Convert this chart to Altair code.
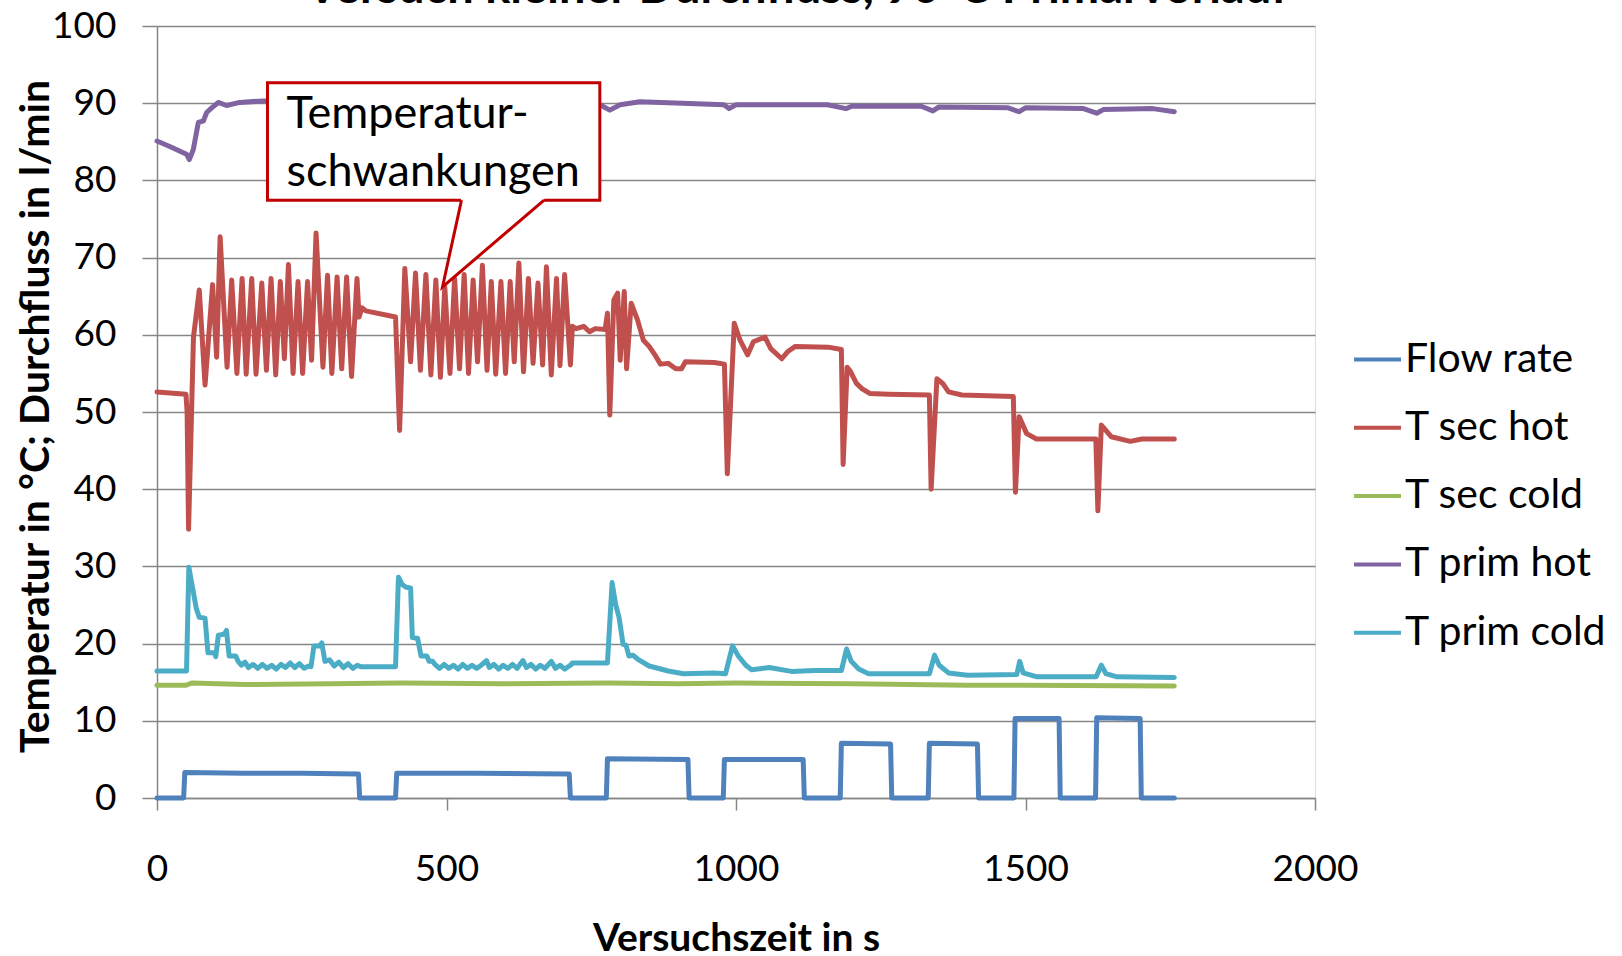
import altair as alt
import pandas as pd

TITLE = "Versuch kleiner Durchfluss, 90°C Primärvorlauf"
SERIES = ["Flow rate", "T sec hot", "T sec cold", "T prim hot", "T prim cold"]
COLORS = ["#4F81BD", "#C0504D", "#9BBB59", "#8064A2", "#4BACC6"]
X_TICKS = [0, 500, 1000, 1500, 2000]
Y_TICKS = [0, 10, 20, 30, 40, 50, 60, 70, 80, 90, 100]

# Flow rate (l/min)
FLOW_T = [0, 46, 48, 150, 250, 348, 350, 412, 414, 550, 712, 714, 776, 778, 917, 919,
          978, 980, 1116, 1118, 1180, 1182, 1267, 1269, 1332, 1334, 1417, 1419, 1480,
          1482, 1558, 1560, 1621, 1623, 1698, 1700, 1757]
FLOW_V = [0, 0, 3.3, 3.2, 3.2, 3.1, 0, 0, 3.2, 3.2, 3.1, 0, 0, 5.1, 5.0, 0,
          0, 5.0, 5.0, 0, 0, 7.1, 7.0, 0, 0, 7.1, 7.0, 0, 0,
          10.3, 10.3, 0, 0, 10.4, 10.3, 0, 0]

# T sec hot
SH_T = [0, 50, 52, 54.5, 58, 63, 73, 83, 96, 103, 109, 121, 129, 138, 147, 154, 163.6, 171,
        181, 189, 197, 205, 213, 220, 227, 235, 243.6, 251.5, 260, 267, 274.7, 286.6, 294.5,
        302, 311, 319, 327.5, 336, 345.4, 349, 354, 360.6, 412, 419, 428, 438, 446.5, 455,
        464.4, 473, 481.6, 489.5, 497, 506, 514, 522.5, 530.5, 538, 546, 553.6, 562, 570,
        577.4, 585, 594, 602, 610, 617, 625, 633, 641.5, 649.5, 658, 666, 672.6, 681, 690,
        696, 704, 714, 717.5, 724, 737, 747, 757, 774, 778, 782, 789, 795.6, 800, 807, 811,
        819, 830, 840, 850, 860, 869.6, 883, 896, 906, 912.6, 962, 980, 985, 997, 1007, 1020,
        1030, 1050, 1060, 1079, 1089, 1102.5, 1159, 1182, 1185, 1192, 1198, 1208, 1218, 1231,
        1264, 1334, 1337, 1347, 1357, 1367, 1390, 1479, 1482.6, 1489, 1502, 1519, 1621.5,
        1625, 1631, 1648, 1681, 1701, 1757]
SH_V = [52.6, 52.3, 50.0, 34.8, 45.0, 59.7, 65.8, 53.5, 66.5, 57.1, 72.7, 55.8, 67.1, 55.0,
        67.3, 54.9, 67.3, 54.9, 66.7, 55.4, 67.3, 54.8, 66.9, 56.9, 69.1, 55.0, 66.9, 55.0,
        66.9, 56.7, 73.2, 55.8, 67.7, 55.0, 67.5, 55.6, 67.5, 54.6, 67.3, 62.3, 63.5, 63.1,
        62.3, 47.6, 68.6, 56.5, 68.0, 55.4, 67.8, 54.8, 67.1, 54.5, 66.2, 55.0, 67.3, 55.6,
        67.8, 55.0, 67.1, 56.5, 69.0, 55.4, 66.9, 54.9, 66.9, 55.0, 66.9, 56.5, 69.3, 55.2,
        67.3, 56.3, 66.7, 56.1, 68.8, 54.8, 67.3, 56.0, 67.8, 56.1, 61.1, 60.8, 61.1, 60.4,
        60.8, 60.7, 62.8, 49.6, 64.5, 65.4, 56.7, 65.6, 55.6, 64.1, 61.9, 59.3, 58.5, 57.4,
        56.2, 56.3, 55.6, 55.6, 56.5, 56.4, 56.2, 42.0, 61.5, 59.3, 57.4, 59.1, 59.7, 58.2,
        56.9, 57.8, 58.5, 58.4, 58.1, 43.2, 55.8, 55.2, 53.7, 53.0, 52.4, 52.3, 52.2, 40.0,
        54.3, 53.7, 52.6, 52.2, 52.0, 39.6, 49.4, 47.2, 46.5, 46.5, 37.2, 48.3, 46.8, 46.2,
        46.5, 46.5]

# T sec cold
SC_T = [0, 50, 60, 150, 300, 420, 600, 780, 900, 1000, 1200, 1400, 1500, 1757]
SC_V = [14.6, 14.6, 14.9, 14.7, 14.8, 14.9, 14.8, 14.9, 14.8, 14.9, 14.8, 14.6, 14.6, 14.5]

# T prim hot
PH_T = [0, 25, 51, 55.8, 62.7, 71.4, 80, 85.8, 94.4, 106, 120, 143, 184, 300, 500, 700, 765,
        782, 800, 834, 907, 979, 988, 1000, 1158, 1190, 1200, 1320, 1340, 1350, 1470, 1489,
        1500, 1600, 1623, 1635, 1720, 1757]
PH_V = [85.1, 84.3, 83.4, 82.7, 84.0, 87.5, 87.7, 88.8, 89.4, 90.1, 89.7, 90.1, 90.3, 90.3,
        90.3, 90.2, 89.8, 89.1, 89.8, 90.2, 90.0, 89.8, 89.3, 89.8, 89.8, 89.3, 89.6, 89.6,
        89.0, 89.5, 89.4, 88.9, 89.4, 89.3, 88.7, 89.2, 89.3, 88.9]

# T prim cold
PC_T = [0, 51, 55, 68, 73, 83, 88, 99, 101.5, 106, 116, 120, 124.6, 136, 140, 146, 152, 158,
        166, 174, 182, 190, 198, 206, 214, 222, 230, 238, 246, 254, 262, 266, 271, 281, 284.6,
        290, 298, 306, 314, 322, 330, 338, 346, 352, 412, 417, 423, 430, 438, 441, 450, 456,
        466, 470, 476, 480, 488, 496, 504, 512, 520, 528, 536, 544, 552, 560, 569, 574, 582,
        590, 598, 606, 614, 622, 632, 638, 646, 654, 662, 670, 681, 688, 696, 704, 712, 716,
        717, 778, 786, 792, 798, 805, 810, 815, 822, 830, 850, 883, 909, 962, 982, 994, 1004,
        1017, 1027, 1057, 1096, 1136, 1182, 1191, 1199, 1212, 1229, 1334, 1343, 1351, 1367,
        1400, 1485, 1490, 1496, 1520, 1622, 1631, 1639, 1658, 1757]
PC_V = [16.45, 16.45, 29.9, 24.5, 23.4, 23.3, 18.8, 18.8, 18.3, 21.1, 21.2, 21.7, 18.4, 18.4,
        17.7, 17.2, 17.6, 16.9, 17.3, 16.8, 17.3, 16.8, 17.2, 16.7, 17.3, 16.9, 17.5, 16.9,
        17.4, 16.8, 17.1, 17.0, 19.7, 19.7, 20.1, 17.7, 17.9, 17.1, 17.6, 16.9, 17.4, 16.8,
        17.2, 17.0, 17.0, 28.6, 27.7, 27.3, 27.2, 20.8, 20.7, 18.4, 18.4, 17.7, 17.7, 17.3,
        16.8, 17.3, 16.8, 17.2, 16.7, 17.3, 16.8, 17.2, 16.8, 17.2, 17.8, 16.9, 17.3, 16.7,
        17.2, 16.8, 17.3, 16.8, 17.8, 16.9, 17.3, 16.7, 17.2, 16.8, 17.7, 16.8, 17.2, 16.7,
        17.1, 17.3, 17.5, 17.5, 27.9, 25.1, 23.4, 19.9, 19.8, 18.4, 18.5, 18.0, 17.1, 16.45,
        16.1, 16.2, 16.1, 19.7, 18.4, 17.2, 16.6, 16.9, 16.4, 16.5, 16.5, 19.3, 17.7, 16.7,
        16.1, 16.1, 18.5, 17.2, 16.2, 15.9, 16.0, 17.7, 16.2, 15.7, 15.7, 17.2, 16.1, 15.7,
        15.6]

# Callout (data coordinates)
ANN_TEXT = ["Temperatur-", "schwankungen"]
ANN_T = [223.6, 223.6]
ANN_V = [86.73, 79.25]
BOX_T = [190.8, 764.8]
BOX_V = [77.44, 92.64]
PTR_T = [525.9, 493.1, 668.6]
PTR_V = [77.44, 66.2, 77.44]

rows = []
for name, ts, vs in [("Flow rate", FLOW_T, FLOW_V), ("T sec hot", SH_T, SH_V),
                     ("T sec cold", SC_T, SC_V), ("T prim hot", PH_T, PH_V),
                     ("T prim cold", PC_T, PC_V)]:
    for i, (t, v) in enumerate(zip(ts, vs)):
        rows.append({"series": name, "t": t, "v": v, "i": i})
df = pd.DataFrame(rows)

FONT = "Lato"
GRAY = "#868686"

x_enc = alt.X("t:Q", scale=alt.Scale(domain=[0, 2000], nice=False, zero=False),
              axis=alt.Axis(values=X_TICKS, format="d", labelFlush=False,
                            title="Versuchszeit in s", grid=False,
                            labelFont=FONT, labelFontSize=37, labelColor="black",
                            labelPadding=41, tickSize=12, tickColor=GRAY, tickWidth=1.5,
                            domainColor=GRAY, domainWidth=1.5,
                            titleFont=FONT, titleFontSize=39, titleFontWeight="bold",
                            titleColor="black", titleX=579, titleY=152,
                            titleBaseline="alphabetic", titleAlign="center"))
y_enc = alt.Y("v:Q", scale=alt.Scale(domain=[0, 100], nice=False),
              axis=alt.Axis(values=Y_TICKS, title="Temperatur in °C; Durchfluss in l/min",
                            grid=True, gridColor=GRAY, gridWidth=1.5,
                            labelFont=FONT, labelFontSize=37, labelColor="black",
                            labelPadding=26, tickSize=15, tickColor=GRAY, tickWidth=1.5,
                            domainColor=GRAY, domainWidth=1.5,
                            titleFont=FONT, titleFontSize=41, titleFontWeight="bold",
                            titleColor="black", titleAngle=270, titleX=-121, titleY=390,
                            titleAlign="center", titleBaseline="middle"))

lines = alt.Chart(df).mark_line(strokeWidth=5, strokeJoin="round", strokeCap="round").encode(
    x=x_enc, y=y_enc,
    color=alt.Color("series:N", scale=alt.Scale(domain=SERIES, range=COLORS),
                    legend=alt.Legend(title=None, orient="none", legendX=1195, legendY=308,
                                      symbolType="stroke", symbolSize=2209,
                                      symbolStrokeWidth=4, labelFont=FONT, labelFontSize=41,
                                      labelColor="black", labelOffset=2, rowPadding=22.3,
                                      padding=0, offset=0, labelLimit=500)),
    order="i:Q",
)

box_df = pd.DataFrame({"t": [BOX_T[0]], "t2": [BOX_T[1]], "v": [BOX_V[0]], "v2": [BOX_V[1]]})
box = alt.Chart(box_df).mark_rect(fill="white", stroke="#C00000", strokeWidth=3).encode(
    x="t:Q", x2="t2:Q", y="v:Q", y2="v2:Q")

# white cover of the pointer triangle
tip_t, tip_v = PTR_T[1], PTR_V[1]
lo_mid = tip_v + (PTR_T[0] - tip_t) / (PTR_T[2] - tip_t) * (PTR_V[2] - tip_v)
cover_df = pd.DataFrame({"t": [tip_t, PTR_T[0], PTR_T[2]],
                         "v": [tip_v, lo_mid, PTR_V[2]],
                         "v2": [tip_v, PTR_V[0] + 0.4, PTR_V[2] + 0.4]})
cover = alt.Chart(cover_df).mark_area(fill="white", opacity=1).encode(
    x="t:Q", y="v:Q", y2="v2:Q")

ptr_df = pd.DataFrame({"t": PTR_T, "v": PTR_V, "i": [0, 1, 2]})
ptr = alt.Chart(ptr_df).mark_line(color="#C00000", strokeWidth=3, strokeJoin="miter").encode(
    x="t:Q", y="v:Q", order="i:Q")

ann_df = pd.DataFrame({"t": ANN_T, "v": ANN_V, "text": ANN_TEXT})
ann = alt.Chart(ann_df).mark_text(font=FONT, fontSize=45, color="black", align="left",
                                  baseline="alphabetic").encode(x="t:Q", y="v:Q", text="text:N")

title_df = pd.DataFrame({"text": [TITLE]})
title = alt.Chart(title_df).mark_text(font=FONT, fontSize=47, fontWeight="bold", color="black",
                                      align="center", baseline="alphabetic").encode(
    x=alt.value(640), y=alt.value(-23), text="text:N")

chart = alt.layer(lines, box, cover, ptr, ann, title).properties(
    width=1158, height=772,
    padding={"left": 157, "top": 26, "right": 307, "bottom": 158},
    autosize=alt.AutoSizeParams(type="none"),
).configure_view(stroke=None).configure(background="white")

chart.save("out.html", embed_options={"renderer": "svg", "actions": False})
